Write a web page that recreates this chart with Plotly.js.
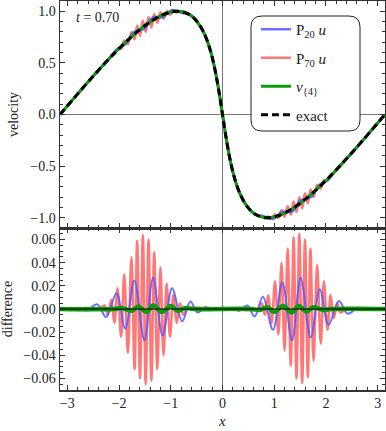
<!DOCTYPE html>
<html>
<head>
<meta charset="utf-8">
<script src="https://cdn.plot.ly/plotly-3.0.1.min.js"></script>
<style>
  html, body { margin: 0; padding: 0; background: #fff; }
  #diagram { width: 386px; height: 431px; }
</style>
</head>
<body>
<div id="diagram"></div>
<script>
// exact solution
var xExact = [-3.1416, -3.0709, -2.9012, -2.7326, -2.5655, -2.4008, -2.2391, -2.0810, -1.9272, -1.7780,
  -1.6340, -1.4958, -1.3635, -1.2376, -1.1183, -1.0058, -0.9003, -0.8017, -0.7102, -0.6255,
  -0.5476, -0.4762, -0.4110, -0.3517, -0.2978, -0.2491, -0.2048, -0.1644, -0.1274, -0.0931,
  -0.0609, -0.0301, 0,
  0.0301, 0.0609, 0.0931, 0.1274, 0.1644, 0.2048, 0.2491, 0.2978, 0.3517, 0.4110,
  0.4762, 0.5476, 0.6255, 0.7102, 0.8017, 0.9003, 1.0058, 1.1183, 1.2376, 1.3635,
  1.4958, 1.6340, 1.7780, 1.9272, 2.0810, 2.2391, 2.4008, 2.5655, 2.7326, 2.9012,
  3.0709, 3.1416];
var uExact = [0, 0.0416, 0.1411, 0.2392, 0.3350, 0.4274, 0.5155, 0.5985, 0.6755, 0.7457,
  0.8085, 0.8632, 0.9093, 0.9463, 0.9738, 0.9917, 0.9996, 0.9975, 0.9854, 0.9636,
  0.9320, 0.8912, 0.8415, 0.7833, 0.7174, 0.6442, 0.5646, 0.4794, 0.3894, 0.2955,
  0.1987, 0.0998, 0,
  -0.0998, -0.1987, -0.2955, -0.3894, -0.4794, -0.5646, -0.6442, -0.7174, -0.7833, -0.8415,
  -0.8912, -0.9320, -0.9636, -0.9854, -0.9975, -0.9996, -0.9917, -0.9738, -0.9463, -0.9093,
  -0.8632, -0.8085, -0.7457, -0.6755, -0.5985, -0.5155, -0.4274, -0.3350, -0.2392, -0.1411,
  -0.0416, 0];

// P20 u in the top panel
var xP20 = [-3.1416, -3.0709, -2.9012, -2.7326, -2.62, -2.42, -2.25, -2.05, -1.88, -1.705,
  -1.51, -1.343, -1.157, -0.975, -0.78, -0.62, -0.48, -0.33, -0.2978, -0.2491,
  -0.2048, -0.1644, -0.1274, -0.0931, -0.0609, -0.0301, 0, 0.0301, 0.0609, 0.0931,
  0.1274, 0.1644, 0.2048, 0.2491, 0.2978, 0.33, 0.48, 0.62, 0.78, 0.975,
  1.157, 1.343, 1.51, 1.705, 1.88, 2.05, 2.25, 2.42, 2.62, 2.7326,
  2.9012, 3.0709, 3.1416];
var uP20 = [0, 0.0416, 0.1411, 0.2392, 0.303, 0.421, 0.503, 0.628, 0.681, 0.802,
  0.831, 0.942, 0.942, 1.012, 0.984, 0.968, 0.890, 0.758, 0.7174, 0.6442,
  0.5646, 0.4794, 0.3894, 0.2955, 0.1987, 0.0998, 0, -0.0998, -0.1987, -0.2955,
  -0.3894, -0.4794, -0.5646, -0.6442, -0.7174, -0.758, -0.890, -0.968, -0.984, -1.012,
  -0.942, -0.942, -0.831, -0.802, -0.681, -0.628, -0.503, -0.421, -0.303, -0.2392,
  -0.1411, -0.0416, 0];

// P70 u in the top panel
var xP70 = [-3.1416, -3.0709, -2.9012, -2.7326, -2.5655, -2.4008, -2.28, -2.22, -2.15, -2.09,
  -2.03, -1.96, -1.90, -1.83, -1.76, -1.70, -1.65, -1.595, -1.54, -1.485,
  -1.43, -1.375, -1.32, -1.26, -1.20, -1.14, -1.08, -1.015, -0.95, -0.885,
  -0.82, -0.76, -0.7102, -0.6255, -0.5476, -0.4762, -0.4110, -0.3517, -0.2978, -0.2491,
  -0.2048, -0.1644, -0.1274, -0.0931, -0.0609, -0.0301, 0,
  0.0301, 0.0609, 0.0931, 0.1274, 0.1644, 0.2048, 0.2491, 0.2978, 0.3517, 0.4110,
  0.4762, 0.5476, 0.6255, 0.7102, 0.76, 0.82, 0.885, 0.95, 1.015, 1.08,
  1.14, 1.20, 1.26, 1.32, 1.375, 1.43, 1.485, 1.54, 1.595, 1.65,
  1.70, 1.76, 1.83, 1.90, 1.96, 2.03, 2.09, 2.15, 2.22, 2.28,
  2.4008, 2.5655, 2.7326, 2.9012, 3.0709, 3.1416];
var uP70 = [0, 0.0416, 0.1411, 0.2392, 0.3350, 0.4274, 0.496, 0.521, 0.570, 0.582,
  0.642, 0.635, 0.718, 0.683, 0.799, 0.728, 0.861, 0.764, 0.910, 0.802,
  0.946, 0.843, 0.971, 0.888, 0.991, 0.929, 1.002, 0.966, 1.008, 0.988,
  1.003, 0.987, 0.9854, 0.9636, 0.9320, 0.8912, 0.8415, 0.7833, 0.7174, 0.6442,
  0.5646, 0.4794, 0.3894, 0.2955, 0.1987, 0.0998, 0,
  -0.0998, -0.1987, -0.2955, -0.3894, -0.4794, -0.5646, -0.6442, -0.7174, -0.7833, -0.8415,
  -0.8912, -0.9320, -0.9636, -0.9854, -0.987, -1.003, -0.988, -1.008, -0.966, -1.002,
  -0.929, -0.991, -0.888, -0.971, -0.843, -0.946, -0.802, -0.910, -0.764, -0.861,
  -0.728, -0.799, -0.683, -0.718, -0.635, -0.642, -0.582, -0.570, -0.521, -0.496,
  -0.4274, -0.3350, -0.2392, -0.1411, -0.0416, 0];

// differences, bottom panel
var xDiff20 = [-3.1416, -2.75, -2.62, -2.42, -2.25, -2.05, -1.88, -1.705, -1.51, -1.343,
  -1.157, -0.975, -0.78, -0.62, -0.48, -0.33, -0.2, 0.2, 0.33, 0.48,
  0.62, 0.78, 0.975, 1.157, 1.343, 1.51, 1.705, 1.88, 2.05, 2.25,
  2.42, 2.62, 2.75, 3.1416];
var dP20 = [0, 0, -0.001, 0.004, -0.007, 0.0137, -0.017, 0.0246, -0.027, 0.027,
  -0.023, 0.018, -0.0106, 0.0065, -0.003, 0.0015, 0, 0, -0.0015, 0.003,
  -0.0065, 0.0106, -0.018, 0.023, -0.027, 0.027, -0.0246, 0.017, -0.0137, 0.007,
  -0.004, 0.001, 0, 0];

var xDiff70 = [-3.1416, -2.40, -2.28, -2.22, -2.15, -2.09, -2.03, -1.96, -1.90, -1.83,
  -1.76, -1.70, -1.65, -1.595, -1.54, -1.485, -1.43, -1.375, -1.32, -1.26,
  -1.20, -1.14, -1.08, -1.015, -0.95, -0.885, -0.82, -0.76, -0.68,
  0.68, 0.76, 0.82, 0.885, 0.95, 1.015, 1.08, 1.14, 1.20, 1.26,
  1.32, 1.375, 1.43, 1.485, 1.54, 1.595, 1.65, 1.70, 1.76, 1.83,
  1.90, 1.96, 2.03, 2.09, 2.15, 2.22, 2.28, 2.40, 3.1416];
var dP70 = [0, 0, 0.003, -0.005, 0.008, -0.012, 0.018, -0.024, 0.030, -0.038,
  0.045, -0.052, 0.059, -0.060, 0.064, -0.065, 0.060, -0.062, 0.049, -0.052,
  0.036, -0.040, 0.022, -0.024, 0.012, -0.012, 0.005, -0.005, 0,
  0, 0.005, -0.005, 0.012, -0.012, 0.024, -0.022, 0.040, -0.036, 0.052,
  -0.049, 0.062, -0.060, 0.065, -0.064, 0.060, -0.059, 0.052, -0.045, 0.038,
  -0.030, 0.024, -0.018, 0.012, -0.008, 0.005, -0.003, 0, 0];

var xDiff4 = [-3.1416, -2.1, -1.95, -1.75, -1.63, -1.47, -1.34, -1.17, -1.0, -0.87,
  -0.72, -0.55, 0.55, 0.72, 0.87, 1.0, 1.17, 1.34, 1.47, 1.63,
  1.75, 1.95, 2.1, 3.1416];
var dV4 = [0, 0, 0.0008, -0.0015, 0.0022, -0.0025, 0.003, -0.0025, 0.0025, -0.0015,
  0.0008, 0, 0, -0.0008, 0.0015, -0.0025, 0.0025, -0.003, 0.0025, -0.0022,
  0.0015, -0.0008, 0, 0];

var xTicks = [-3, -2, -1, 0, 1, 2, 3];

var serif = 'Liberation Serif, Times New Roman, serif';
var blue = 'rgba(85,85,255,0.85)';
var red = 'rgba(255,95,95,0.85)';
var green = '#0c9c0c';

// plot area in pixels (margins below)
var L = 60, R = 1, T = 1, B = 41, W = 386, H = 431;
var pw = W - L - R, ph = H - T - B;
function px(x) { return (x - L) / pw; }
function py(y) { return 1 - (y - T) / ph; }

function roundBox(x0, y0, x1, y1, r) {
  var p = 'M' + px(x0 + r) + ',' + py(y0);
  p += ' L' + px(x1 - r) + ',' + py(y0);
  p += ' Q' + px(x1) + ',' + py(y0) + ' ' + px(x1) + ',' + py(y0 + r);
  p += ' L' + px(x1) + ',' + py(y1 - r);
  p += ' Q' + px(x1) + ',' + py(y1) + ' ' + px(x1 - r) + ',' + py(y1);
  p += ' L' + px(x0 + r) + ',' + py(y1);
  p += ' Q' + px(x0) + ',' + py(y1) + ' ' + px(x0) + ',' + py(y1 - r);
  p += ' L' + px(x0) + ',' + py(y0 + r);
  p += ' Q' + px(x0) + ',' + py(y0) + ' ' + px(x0 + r) + ',' + py(y0) + ' Z';
  return p;
}

var split = 162 / ph;

var data = [
  {x: xP70, y: uP70, type: 'scatter', mode: 'lines', name: 'P<sub>70</sub> <i>u</i>',
    line: {color: red, width: 2.5, shape: 'spline', smoothing: 1}, xaxis: 'x', yaxis: 'y',
    legendrank: 2, legendgroup: 'b'},
  {x: xP20, y: uP20, type: 'scatter', mode: 'lines', name: 'P<sub>20</sub> <i>u</i>',
    line: {color: blue, width: 2.5, shape: 'spline', smoothing: 1}, xaxis: 'x', yaxis: 'y',
    legendrank: 1, legendgroup: 'a'},
  {x: xExact, y: uExact, type: 'scatter', mode: 'lines', name: '<i>v</i><sub>{4}</sub>',
    line: {color: green, width: 3, shape: 'spline', smoothing: 0.6}, xaxis: 'x', yaxis: 'y',
    legendrank: 3, legendgroup: 'c'},
  {x: xExact, y: uExact, type: 'scatter', mode: 'lines', name: 'exact',
    line: {color: '#000', width: 3, dash: '7px,4px', shape: 'spline', smoothing: 0.6}, xaxis: 'x', yaxis: 'y',
    legendrank: 4, legendgroup: 'd'},

  {x: xDiff70, y: dP70, type: 'scatter', mode: 'lines', showlegend: false,
    line: {color: red, width: 2.5, shape: 'spline', smoothing: 1}, xaxis: 'x2', yaxis: 'y2'},
  {x: xDiff20, y: dP20, type: 'scatter', mode: 'lines', showlegend: false,
    line: {color: blue, width: 2, shape: 'spline', smoothing: 1}, xaxis: 'x2', yaxis: 'y2'},
  {x: xDiff4, y: dV4, type: 'scatter', mode: 'lines', showlegend: false,
    line: {color: green, width: 4.5, shape: 'spline', smoothing: 1}, xaxis: 'x2', yaxis: 'y2'}
];

var axisCommon = {
  showline: true, mirror: 'allticks', linecolor: '#333', linewidth: 1.5,
  ticks: 'inside', ticklen: 5, tickwidth: 1, tickcolor: '#333',
  showgrid: false, zeroline: true, zerolinecolor: '#777', zerolinewidth: 1,
  tickfont: {family: serif, size: 14, color: '#222'}
};

var layout = {
  width: W, height: H,
  margin: {l: L, r: R, t: T, b: B},
  paper_bgcolor: '#fff', plot_bgcolor: '#fff',
  font: {family: serif, size: 14, color: '#222'},
  showlegend: true,
  legend: {
    x: px(256), y: py(13), xanchor: 'left', yanchor: 'top',
    bgcolor: 'rgba(0,0,0,0)', borderwidth: 0,
    font: {family: serif, size: 15, color: '#222'},
    traceorder: 'grouped', tracegroupgap: 6, itemwidth: 30
  },
  xaxis: Object.assign({}, axisCommon, {
    domain: [0, 1], anchor: 'y', range: [-3.1416, 3.1416], matches: 'x2',
    tickvals: xTicks, showticklabels: false,
    minor: {dtick: 0.2, tick0: 0, ticklen: 3, ticks: 'inside', tickcolor: '#333'}
  }),
  xaxis2: Object.assign({}, axisCommon, {
    domain: [0, 1], anchor: 'y2', range: [-3.1416, 3.1416],
    tickvals: xTicks, ticktext: xTicks.map(function(v){ return v < 0 ? '\u2212' + (-v) : String(v); }),
    minor: {dtick: 0.2, tick0: 0, ticklen: 3, ticks: 'inside', tickcolor: '#333'}
  }),
  yaxis: Object.assign({}, axisCommon, {
    domain: [split, 1], anchor: 'x', range: [-1.1, 1.1],
    dtick: 0.5, tick0: 0, tickformat: '.1f',
    minor: {dtick: 0.1, tick0: 0, ticklen: 3, ticks: 'inside', tickcolor: '#333'},
    title: {text: 'velocity', font: {family: serif, size: 14, color: '#222'}, standoff: 8}
  }),
  yaxis2: Object.assign({}, axisCommon, {
    domain: [0, split], anchor: 'x2', range: [-0.07, 0.07],
    dtick: 0.02, tick0: 0, tickformat: '.2f', zeroline: false,
    minor: {dtick: 0.005, tick0: 0, ticklen: 3, ticks: 'inside', tickcolor: '#333'},
    title: {text: 'difference', font: {family: serif, size: 14, color: '#222'}, standoff: 8}
  }),
  shapes: [
    {type: 'path', xref: 'paper', yref: 'paper', path: roundBox(251, 16, 360, 131, 11),
      fillcolor: '#fff', line: {color: '#222', width: 1}, layer: 'above'},
    {type: 'line', xref: 'x2', yref: 'y2', x0: -3.1416, x1: 3.1416, y0: 0, y1: 0,
      line: {color: '#000', width: 1}, layer: 'above'}
  ],
  annotations: [
    {xref: 'paper', yref: 'paper', x: px(74), y: py(18), xanchor: 'left', yanchor: 'middle',
      text: '<i>t</i> = 0.70', showarrow: false, font: {family: serif, size: 14, color: '#222'}},
    {xref: 'paper', yref: 'paper', x: px(222), y: py(430), xanchor: 'center', yanchor: 'bottom',
      borderpad: 0, text: '<i>x</i>', showarrow: false, font: {family: serif, size: 15, color: '#222'}}
  ]
};

Plotly.newPlot('diagram', data, layout, {displayModeBar: false, staticPlot: true});
</script>
</body>
</html>
